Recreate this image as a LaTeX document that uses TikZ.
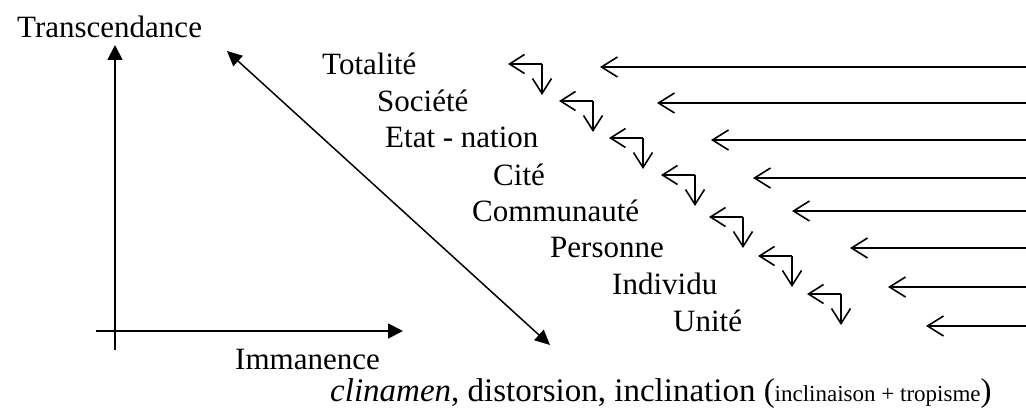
\documentclass[tikz,border=0pt]{standalone}
\usepackage{fontspec}
\setmainfont{Liberation Serif}
\usetikzlibrary{arrows.meta}
\begin{document}
\begin{tikzpicture}[x=1pt,y=-1pt,
  lbl/.style={anchor=base west,inner sep=0pt,font=\fontsize{31}{36}\selectfont},
  axis/.style={line width=1.8pt,-{Triangle[length=15pt,width=15pt]}},
  diag/.style={line width=1.5pt,{Triangle[length=15pt,width=14pt]}-{Triangle[length=15pt,width=14pt]}},
  longarr/.style={line width=1.6pt,-{Straight Barb[length=16pt,width=20pt,line width=1.6pt]}},
  bent/.style={line width=1.6pt,-{Straight Barb[length=15pt,width=19pt,line width=1.6pt]}}]
\useasboundingbox (0,0) rectangle (1026,411);
% axes
\coordinate (vb) at (115,350);
\coordinate (vt) at (115,45);
\coordinate (hl) at (96,331);
\coordinate (hr) at (403,331);
\draw[axis] (vb) -- (vt);
\draw[axis] (hl) -- (hr);
\coordinate (da) at (227,51);
\coordinate (db) at (550,345);
\draw[diag] (da) -- (db);
% labels
\node[lbl] (tr) at (17,38) {Transcendance};
\node[lbl] (im) at (235,370) {Immanence};
\node[lbl,font=\fontsize{33}{38}\selectfont] (cl) at (330,402) {\textit{clinamen}, distorsion, inclination ({\fontsize{23}{27}\selectfont inclinaison + tropisme})};
\node[lbl] (l1) at (322,75) {Totalité};
\node[lbl] (l2) at (377,112) {Société};
\node[lbl] (l3) at (385,148) {Etat - nation};
\node[lbl] (l4) at (493,186) {Cité};
\node[lbl] (l5) at (472,222) {Communauté};
\node[lbl] (l6) at (550,258) {Personne};
\node[lbl] (l7) at (612,295) {Individu};
\node[lbl] (l8) at (673,332) {Unité};
% long arrows
\foreach \i/\x/\y in {1/600/67,2/657/103,3/711/140,4/753/178,5/792/211,6/850/248,7/888/287,8/926/326}{
  \coordinate (ls\i) at (1026,\y);
  \coordinate (le\i) at (\x,\y);
  \draw[longarr] (ls\i) -- (le\i);
}
% bent arrows
\foreach \i/\x/\y in {1/542/64,2/593/101,3/643/138,4/695/175,5/743/217,6/792/256,7/841/294}{
  \coordinate (c\i) at (\x,\y);
  \coordinate (cl\i) at (\x-34,\y);
  \coordinate (cd\i) at (\x,\y+31);
  \draw[bent] (c\i) -- (cl\i);
  \draw[bent] (c\i) -- (cd\i);
}
\end{tikzpicture}
\end{document}
